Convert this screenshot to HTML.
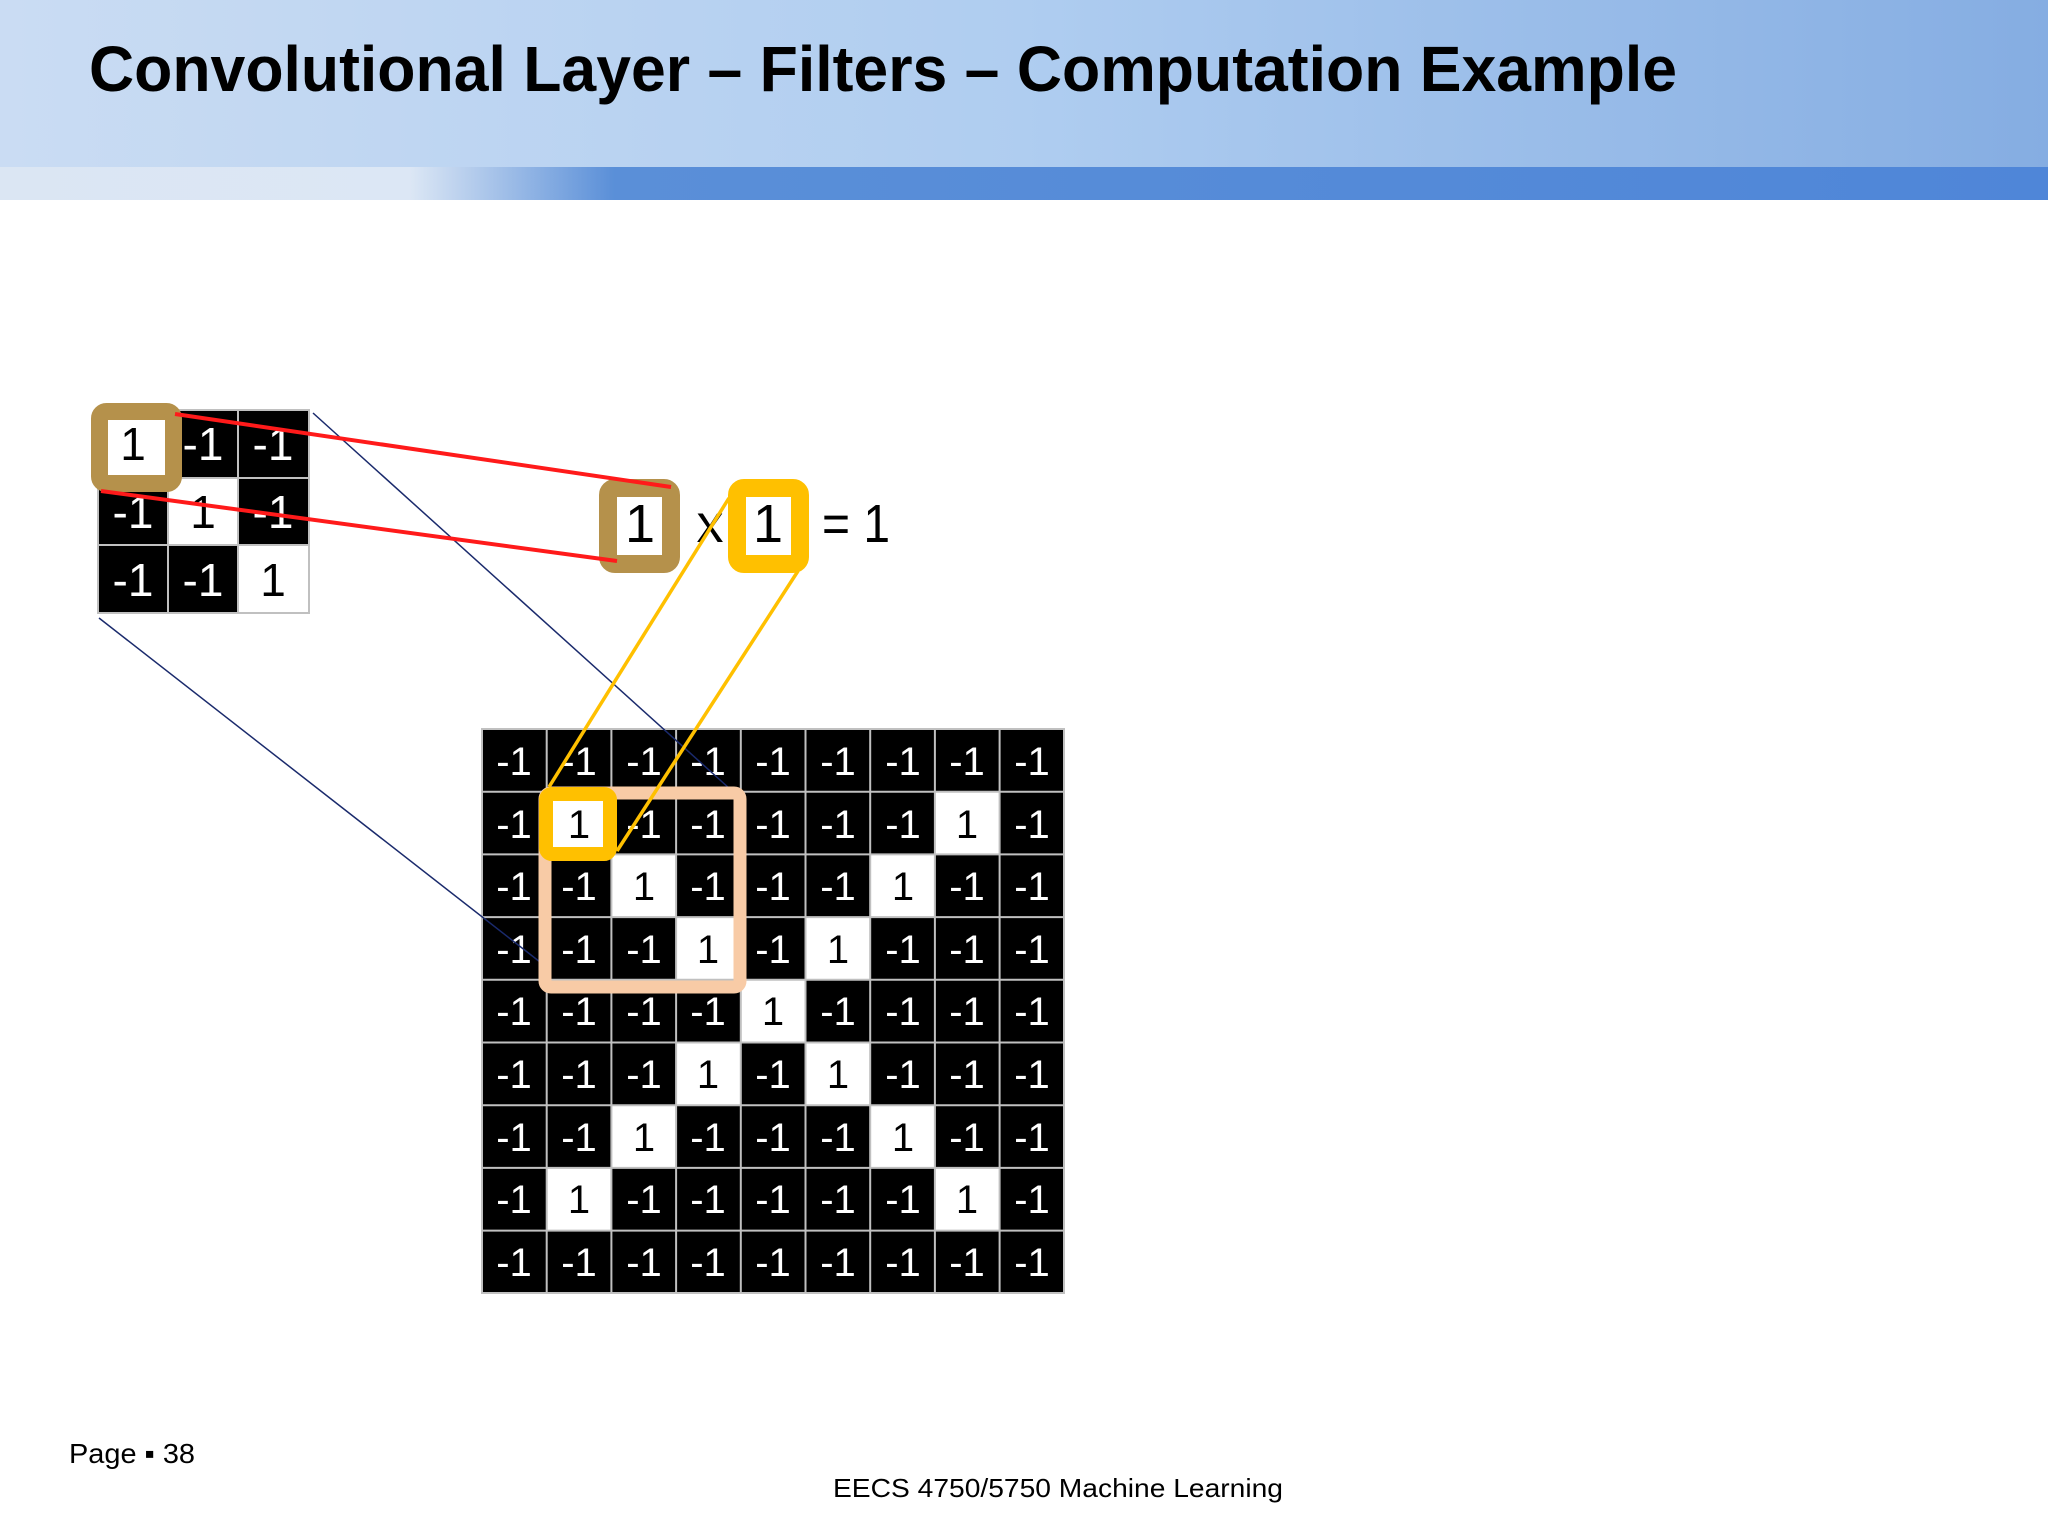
<!DOCTYPE html>
<html><head><meta charset="utf-8"><style>
html,body{margin:0;padding:0;background:#fff;}
svg{display:block}
</style></head><body>
<svg width="2048" height="1536" viewBox="0 0 2048 1536" xmlns="http://www.w3.org/2000/svg" font-family="Liberation Sans, sans-serif">
<defs>
<linearGradient id="hdr" x1="0" x2="1" y1="0" y2="0">
<stop offset="0" stop-color="#cadcf3"/><stop offset="0.5" stop-color="#afcdf0"/><stop offset="1" stop-color="#85ade2"/></linearGradient>
<linearGradient id="band" x1="0" x2="1" y1="0" y2="0">
<stop offset="0" stop-color="#dbe6f3"/><stop offset="0.2" stop-color="#dce7f5"/><stop offset="0.3" stop-color="#5a8fd8"/><stop offset="1" stop-color="#4f86d8"/></linearGradient>
</defs>
<rect x="0" y="0" width="2048" height="167" fill="url(#hdr)"/>
<rect x="0" y="167" width="2048" height="33" fill="url(#band)"/>
<text x="89" y="91" font-size="64" font-weight="bold" fill="#000" textLength="1588" lengthAdjust="spacingAndGlyphs">Convolutional Layer – Filters – Computation Example</text>

<rect x="98" y="410" width="211" height="203" fill="#000"/>
<rect x="168" y="478" width="70" height="67" fill="#fff"/>
<rect x="238" y="545" width="71" height="68" fill="#fff"/>
<rect x="98" y="410" width="70" height="68" fill="#fff"/>
<g stroke="#c0c0c0" stroke-width="2" fill="none">
<rect x="98" y="410" width="211" height="203"/>
<line x1="168" y1="410" x2="168" y2="613"/><line x1="238" y1="410" x2="238" y2="613"/>
<line x1="98" y1="478" x2="309" y2="478"/><line x1="98" y1="545" x2="309" y2="545"/>
</g>
<g font-size="46" text-anchor="middle">
<text x="133" y="460" fill="#000">1</text><text x="203" y="460" fill="#fff">-1</text><text x="273" y="460" fill="#fff">-1</text>
<text x="133" y="528" fill="#fff">-1</text><text x="203" y="528" fill="#000">1</text><text x="273" y="528" fill="#fff">-1</text>
<text x="133" y="596" fill="#fff">-1</text><text x="203" y="596" fill="#fff">-1</text><text x="273" y="596" fill="#000">1</text>
</g>

<rect x="482" y="729" width="582" height="564" fill="#000"/>
<g fill="#fff">
<rect x="546.7" y="791.7" width="64.7" height="62.7"/><rect x="934.9" y="791.7" width="64.7" height="62.7"/>
<rect x="611.4" y="854.4" width="64.7" height="62.7"/><rect x="870.2" y="854.4" width="64.7" height="62.7"/>
<rect x="676.1" y="917.1" width="64.7" height="62.7"/><rect x="805.5" y="917.1" width="64.7" height="62.7"/>
<rect x="740.8" y="979.8" width="64.7" height="62.7"/>
<rect x="676.1" y="1042.5" width="64.7" height="62.7"/><rect x="805.5" y="1042.5" width="64.7" height="62.7"/>
<rect x="611.4" y="1105.2" width="64.7" height="62.7"/><rect x="870.2" y="1105.2" width="64.7" height="62.7"/>
<rect x="546.7" y="1167.9" width="64.7" height="62.7"/><rect x="934.9" y="1167.9" width="64.7" height="62.7"/>
</g>
<g stroke="#c0c0c0" stroke-width="2" fill="none">
<rect x="482" y="729" width="582" height="564"/>
<line x1="546.7" y1="729" x2="546.7" y2="1293"/><line x1="611.4" y1="729" x2="611.4" y2="1293"/><line x1="676.1" y1="729" x2="676.1" y2="1293"/><line x1="740.8" y1="729" x2="740.8" y2="1293"/><line x1="805.5" y1="729" x2="805.5" y2="1293"/><line x1="870.2" y1="729" x2="870.2" y2="1293"/><line x1="934.9" y1="729" x2="934.9" y2="1293"/><line x1="999.6" y1="729" x2="999.6" y2="1293"/>
<line x1="482" y1="791.7" x2="1064" y2="791.7"/><line x1="482" y1="854.4" x2="1064" y2="854.4"/><line x1="482" y1="917.1" x2="1064" y2="917.1"/><line x1="482" y1="979.8" x2="1064" y2="979.8"/><line x1="482" y1="1042.5" x2="1064" y2="1042.5"/><line x1="482" y1="1105.2" x2="1064" y2="1105.2"/><line x1="482" y1="1167.9" x2="1064" y2="1167.9"/><line x1="482" y1="1230.6" x2="1064" y2="1230.6"/>
</g>
<g font-size="40" text-anchor="middle" fill="#fff">
<text x="514" y="775">-1</text><text x="579" y="775">-1</text><text x="644" y="775">-1</text><text x="708" y="775">-1</text><text x="773" y="775">-1</text><text x="838" y="775">-1</text><text x="903" y="775">-1</text><text x="967" y="775">-1</text><text x="1032" y="775">-1</text>
<text x="514" y="838">-1</text><text x="579" y="838" fill="#000">1</text><text x="644" y="838">-1</text><text x="708" y="838">-1</text><text x="773" y="838">-1</text><text x="838" y="838">-1</text><text x="903" y="838">-1</text><text x="967" y="838" fill="#000">1</text><text x="1032" y="838">-1</text>
<text x="514" y="900">-1</text><text x="579" y="900">-1</text><text x="644" y="900" fill="#000">1</text><text x="708" y="900">-1</text><text x="773" y="900">-1</text><text x="838" y="900">-1</text><text x="903" y="900" fill="#000">1</text><text x="967" y="900">-1</text><text x="1032" y="900">-1</text>
<text x="514" y="963">-1</text><text x="579" y="963">-1</text><text x="644" y="963">-1</text><text x="708" y="963" fill="#000">1</text><text x="773" y="963">-1</text><text x="838" y="963" fill="#000">1</text><text x="903" y="963">-1</text><text x="967" y="963">-1</text><text x="1032" y="963">-1</text>
<text x="514" y="1025">-1</text><text x="579" y="1025">-1</text><text x="644" y="1025">-1</text><text x="708" y="1025">-1</text><text x="773" y="1025" fill="#000">1</text><text x="838" y="1025">-1</text><text x="903" y="1025">-1</text><text x="967" y="1025">-1</text><text x="1032" y="1025">-1</text>
<text x="514" y="1088">-1</text><text x="579" y="1088">-1</text><text x="644" y="1088">-1</text><text x="708" y="1088" fill="#000">1</text><text x="773" y="1088">-1</text><text x="838" y="1088" fill="#000">1</text><text x="903" y="1088">-1</text><text x="967" y="1088">-1</text><text x="1032" y="1088">-1</text>
<text x="514" y="1151">-1</text><text x="579" y="1151">-1</text><text x="644" y="1151" fill="#000">1</text><text x="708" y="1151">-1</text><text x="773" y="1151">-1</text><text x="838" y="1151">-1</text><text x="903" y="1151" fill="#000">1</text><text x="967" y="1151">-1</text><text x="1032" y="1151">-1</text>
<text x="514" y="1213">-1</text><text x="579" y="1213" fill="#000">1</text><text x="644" y="1213">-1</text><text x="708" y="1213">-1</text><text x="773" y="1213">-1</text><text x="838" y="1213">-1</text><text x="903" y="1213">-1</text><text x="967" y="1213" fill="#000">1</text><text x="1032" y="1213">-1</text>
<text x="514" y="1276">-1</text><text x="579" y="1276">-1</text><text x="644" y="1276">-1</text><text x="708" y="1276">-1</text><text x="773" y="1276">-1</text><text x="838" y="1276">-1</text><text x="903" y="1276">-1</text><text x="967" y="1276">-1</text><text x="1032" y="1276">-1</text>
</g>

<g stroke="#1a2a6c" stroke-width="1.5">
<line x1="313" y1="413" x2="740" y2="798"/>
<line x1="99" y1="618" x2="540" y2="962"/>
</g>

<rect x="545" y="793" width="195" height="194" rx="6" fill="none" stroke="#f8cba6" stroke-width="13"/>
<rect x="546" y="794" width="64" height="60" rx="6" fill="none" stroke="#ffc000" stroke-width="14"/>

<rect x="608" y="488" width="63" height="76" rx="7" fill="#fff" stroke="#b5914b" stroke-width="18"/>
<text x="640" y="542" font-size="54" text-anchor="middle" fill="#000">1</text>
<text x="710" y="542" font-size="54" text-anchor="middle" fill="#000">x</text>
<rect x="737" y="488" width="63" height="76" rx="7" fill="#fff" stroke="#ffc000" stroke-width="18"/>
<text x="768" y="542" font-size="54" text-anchor="middle" fill="#000">1</text>
<text x="822" y="542" font-size="54" fill="#000" textLength="68" lengthAdjust="spacingAndGlyphs">= 1</text>

<rect x="99.5" y="411.5" width="74" height="72" rx="7" fill="none" stroke="#b5914b" stroke-width="17"/>

<g stroke="#ff1a1a" stroke-width="4">
<line x1="175" y1="414" x2="671" y2="487"/>
<line x1="101" y1="491" x2="617" y2="561"/>
</g>
<g stroke="#ffc000" stroke-width="3.5">
<line x1="729" y1="498" x2="549" y2="787"/>
<line x1="798" y1="571" x2="617" y2="851"/>
</g>

<text x="69" y="1463" font-size="28" fill="#000" textLength="126" lengthAdjust="spacingAndGlyphs">Page ▪ 38</text>
<text x="833" y="1497" font-size="26" fill="#000" textLength="450" lengthAdjust="spacingAndGlyphs">EECS 4750/5750 Machine Learning</text>
</svg>
</body></html>
